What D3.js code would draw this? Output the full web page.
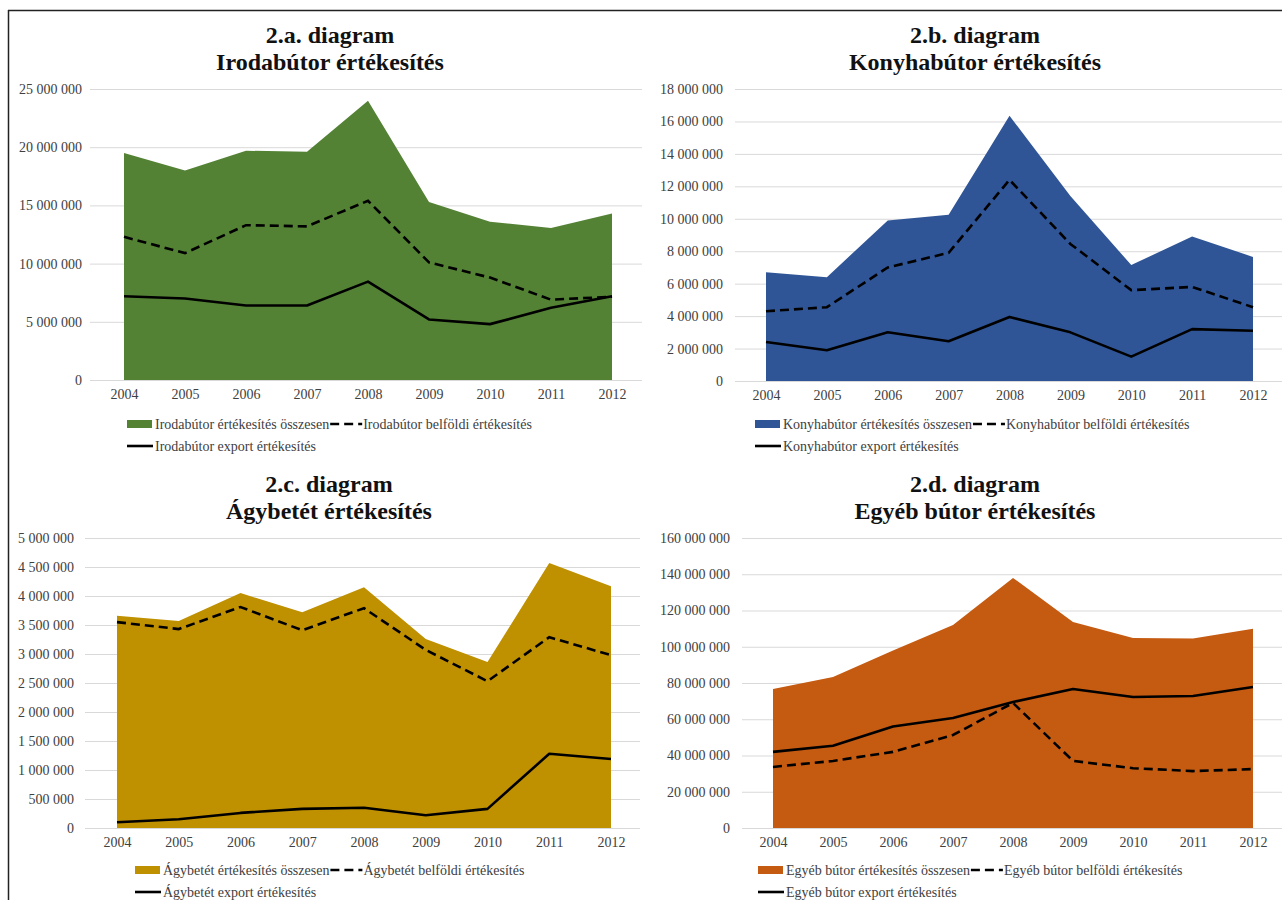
<!DOCTYPE html>
<html><head><meta charset="utf-8">
<script src="https://cdn.jsdelivr.net/npm/d3@7"></script>
<style>
body{margin:0;background:#fff}
svg{display:block}
text{font-family:"Liberation Serif","Times New Roman",serif}
</style>
</head><body>
<svg id="chart" width="1282" height="900"></svg>
<script>
// ---------- DATA ----------
const years = ["2004","2005","2006","2007","2008","2009","2010","2011","2012"];

const irodaTotal    = [19500000,18000000,19700000,19600000,24000000,15300000,13600000,13050000,14300000];
const irodaDomestic = [12300000,10900000,13300000,13200000,15400000,10100000,8800000,6900000,7150000];
const irodaExport   = [7200000,7000000,6400000,6400000,8450000,5200000,4800000,6200000,7200000];
const irodaTicks    = [0,5000000,10000000,15000000,20000000,25000000];
const irodaLegend   = ["Irodabútor értékesítés összesen","Irodabútor belföldi értékesítés","Irodabútor export értékesítés"];

const konyhaTotal    = [6700000,6400000,9900000,10250000,16350000,11400000,7150000,8900000,7650000];
const konyhaDomestic = [4300000,4550000,7000000,7900000,12400000,8450000,5600000,5800000,4550000];
const konyhaExport   = [2400000,1900000,3000000,2450000,3950000,3000000,1500000,3200000,3100000];
const konyhaTicks    = [0,2000000,4000000,6000000,8000000,10000000,12000000,14000000,16000000,18000000];
const konyhaLegend   = ["Konyhabútor értékesítés összesen","Konyhabútor belföldi értékesítés","Konyhabútor export értékesítés"];

const agyTotal    = [3660000,3570000,4050000,3720000,4150000,3260000,2860000,4570000,4170000];
const agyDomestic = [3550000,3430000,3810000,3410000,3790000,3070000,2530000,3290000,2980000];
const agyExport   = [100000,150000,260000,330000,350000,220000,330000,1280000,1190000];
const agyTicks    = [0,500000,1000000,1500000,2000000,2500000,3000000,3500000,4000000,4500000,5000000];
const agyLegend   = ["Ágybetét értékesítés összesen","Ágybetét belföldi értékesítés","Ágybetét export értékesítés"];

const egyebTotal    = [76700000,83300000,98000000,112000000,138000000,113600000,104800000,104600000,110000000];
const egyebDomestic = [33700000,37000000,42000000,51300000,69000000,37000000,33000000,31400000,32500000];
const egyebExport   = [42000000,45400000,56000000,60700000,69500000,76700000,72300000,72800000,77800000];
const egyebTicks    = [0,20000000,40000000,60000000,80000000,100000000,120000000,140000000,160000000];
const egyebLegend   = ["Egyéb bútor értékesítés összesen","Egyéb bútor belföldi értékesítés","Egyéb bútor export értékesítés"];

// ---------- PANELS ----------
const panels = [
  {t1:"2.a. diagram", t2:"Irodabútor értékesítés", color:"#548235",
   total:irodaTotal, dom:irodaDomestic, exp:irodaExport, ticks:irodaTicks, legend:irodaLegend,
   L:{labelX:82, gx0:90, gx1:642, x0:124, x1:612, y0:380, yTop:89, titleX:330, titleY:43, legX:127, legY:424}},
  {t1:"2.b. diagram", t2:"Konyhabútor értékesítés", color:"#2F5597",
   total:konyhaTotal, dom:konyhaDomestic, exp:konyhaExport, ticks:konyhaTicks, legend:konyhaLegend,
   L:{labelX:723, gx0:735, gx1:1282, x0:766, x1:1253, y0:381, yTop:89, titleX:975, titleY:43, legX:755, legY:424}},
  {t1:"2.c. diagram", t2:"Ágybetét értékesítés", color:"#BF9000",
   total:agyTotal, dom:agyDomestic, exp:agyExport, ticks:agyTicks, legend:agyLegend,
   L:{labelX:74, gx0:85, gx1:640, x0:117, x1:611, y0:828, yTop:538, titleX:329, titleY:492, legX:135, legY:870}},
  {t1:"2.d. diagram", t2:"Egyéb bútor értékesítés", color:"#C55A11",
   total:egyebTotal, dom:egyebDomestic, exp:egyebExport, ticks:egyebTicks, legend:egyebLegend,
   L:{labelX:730, gx0:742, gx1:1282, x0:773, x1:1253, y0:828, yTop:538, titleX:975, titleY:492, legX:758, legY:870}}
];

const svg = d3.select("#chart");
const fmt = v => d3.format(",")(v).replace(/,/g, "\u00a0");
const TXT = "#404040";
const FS = 14;

// frame
svg.append("line").attr("x1",8.5).attr("x2",8.5).attr("y1",10).attr("y2",900).attr("stroke","#222").attr("stroke-width",1.5);
svg.append("line").attr("x1",8).attr("x2",1282).attr("y1",10.5).attr("y2",10.5).attr("stroke","#222").attr("stroke-width",1.5);

panels.forEach(p => {
  const L = p.L;
  const g = svg.append("g");
  const x = d3.scalePoint().domain(years).range([L.x0, L.x1]);
  const y = d3.scaleLinear().domain([0, d3.max(p.ticks)]).range([L.y0, L.yTop]);

  // titles
  g.append("text").attr("x",L.titleX).attr("y",L.titleY).attr("text-anchor","middle")
    .attr("font-weight","bold").attr("font-size",24).attr("fill","#111").text(p.t1);
  g.append("text").attr("x",L.titleX).attr("y",L.titleY+27).attr("text-anchor","middle")
    .attr("font-weight","bold").attr("font-size",24).attr("fill","#111").text(p.t2);

  // y axis with gridlines
  const ya = g.append("g").attr("transform",`translate(${L.gx0},0)`)
    .call(d3.axisLeft(y).tickValues(p.ticks).tickFormat(fmt)
      .tickSize(-(L.gx1-L.gx0)).tickPadding(L.gx0-L.labelX));
  ya.select(".domain").remove();
  ya.selectAll(".tick line").attr("stroke","#d9d9d9").attr("stroke-width",1);
  ya.selectAll(".tick text").attr("font-size",FS).attr("fill",TXT)
    .style("font-family",'"Liberation Serif","Times New Roman",serif');

  // area
  const idx = d3.range(years.length);
  g.append("path").datum(idx)
    .attr("d", d3.area().x(i=>x(years[i])).y0(y(0)).y1(i=>y(p.total[i])))
    .attr("fill", p.color);

  // lines
  const line = arr => d3.line().x(i=>x(years[i])).y(i=>y(arr[i]));
  g.append("path").datum(idx).attr("d", line(p.dom)(idx)).attr("fill","none")
    .attr("stroke","#000").attr("stroke-width",2.6).attr("stroke-dasharray","9,5");
  g.append("path").datum(idx).attr("d", line(p.exp)(idx)).attr("fill","none")
    .attr("stroke","#000").attr("stroke-width",2.6).attr("stroke-linejoin","round");

  // x axis
  const xa = g.append("g").attr("transform",`translate(0,${L.y0})`)
    .call(d3.axisBottom(x).tickSize(0).tickPadding(9));
  xa.select(".domain").remove();
  xa.selectAll(".tick text").attr("font-size",FS).attr("fill",TXT)
    .style("font-family",'"Liberation Serif","Times New Roman",serif');

  // legend
  const lg = g.append("g");
  let cx = L.legX;
  lg.append("rect").attr("x",cx).attr("y",L.legY-4).attr("width",25).attr("height",8).attr("fill",p.color);
  const t0 = lg.append("text").attr("x",cx+28).attr("y",L.legY+4.5).attr("font-size",FS).attr("fill",TXT).text(p.legend[0]);
  cx = cx + 28 + t0.node().getComputedTextLength() + 1;
  lg.append("line").attr("x1",cx).attr("x2",cx+32).attr("y1",L.legY).attr("y2",L.legY)
    .attr("stroke","#000").attr("stroke-width",2.6).attr("stroke-dasharray","9,5");
  lg.append("text").attr("x",cx+33).attr("y",L.legY+4.5).attr("font-size",FS).attr("fill",TXT).text(p.legend[1]);
  const ly2 = L.legY + 22;
  lg.append("line").attr("x1",L.legX).attr("x2",L.legX+26).attr("y1",ly2).attr("y2",ly2)
    .attr("stroke","#000").attr("stroke-width",2.6);
  lg.append("text").attr("x",L.legX+28).attr("y",ly2+4.5).attr("font-size",FS).attr("fill",TXT).text(p.legend[2]);
});
</script>
</body></html>
